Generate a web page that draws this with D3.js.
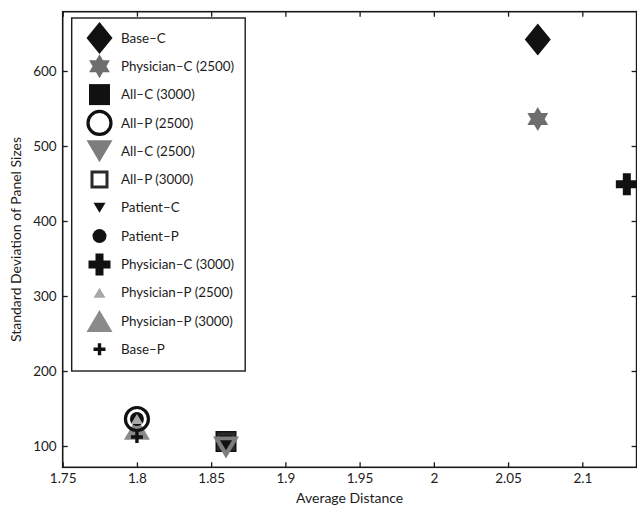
<!DOCTYPE html>
<html>
<head>
<meta charset="utf-8">
<script src="https://cdn.jsdelivr.net/npm/d3@7"></script>
<style>
  html, body { margin: 0; padding: 0; background: #fff; }
  svg { display: block; }
  text { font-family: Lato, "Open Sans", sans-serif; fill: #1c1c1c; }
</style>
</head>
<body>
<svg id="chart" width="637" height="509"></svg>
<script>
// ---------------- data ----------------
const seriesNames = ["Base–C", "Physician–C (2500)", "All–C (3000)", "All–P (2500)", "All–C (2500)",
  "All–P (3000)", "Patient–C", "Patient–P", "Physician–C (3000)", "Physician–P (2500)",
  "Physician–P (3000)", "Base–P"];
const avgDistance = [2.07, 2.07, 1.86, 1.80, 1.86, 1.86, 1.86, 1.80, 2.13, 1.80, 1.80, 1.80];
const stdPanelSize = [642, 536, 106, 136, 98, 106, 101, 136, 449, 136, 123, 112];
const xTicks = [1.75, 1.8, 1.85, 1.9, 1.95, 2, 2.05, 2.1];
const yTicks = [100, 200, 300, 400, 500, 600];

// ---------------- styles ----------------
const markerStyle = [
  { shape: "diamond", w: 26, h: 32, fill: "#111", stroke: "none", sw: 0 },
  { shape: "hexagram", r: 12, fill: "#6e6e6e", stroke: "none", sw: 0 },
  { shape: "square", s: 21, fill: "#111", stroke: "none", sw: 0 },
  { shape: "circle", r: 11.5, fill: "none", stroke: "#111", sw: 3.2 },
  { shape: "triDown", w: 26, h: 22, fill: "#7d7d7d", stroke: "none", sw: 0 },
  { shape: "square", s: 15, fill: "none", stroke: "#2a2a2a", sw: 3 },
  { shape: "triDown", w: 12, h: 10, fill: "#111", stroke: "none", sw: 0 },
  { shape: "circle", r: 7, fill: "#111", stroke: "none", sw: 0 },
  { shape: "plus", L: 22, t: 8, fill: "#111", stroke: "none", sw: 0 },
  { shape: "triUp", w: 12, h: 10, fill: "#a8a8a8", stroke: "none", sw: 0 },
  { shape: "triUp", w: 26, h: 22, fill: "#8a8a8a", stroke: "none", sw: 0 },
  { shape: "plus", L: 12, t: 3.4, fill: "#111", stroke: "none", sw: 0 }
];
const drawOrder = [0, 1, 2, 5, 4, 6, 10, 3, 7, 9, 11, 8];

function markerPath(m) {
  const p = d3.path();
  if (m.shape === "diamond") {
    p.moveTo(0, -m.h / 2); p.lineTo(m.w / 2, 0); p.lineTo(0, m.h / 2); p.lineTo(-m.w / 2, 0); p.closePath();
  } else if (m.shape === "hexagram") {
    const ri = m.r / Math.sqrt(3);
    for (let i = 0; i < 12; i++) {
      const a = -Math.PI / 2 + i * Math.PI / 6;
      const r = i % 2 === 0 ? m.r : ri;
      if (i === 0) p.moveTo(r * Math.cos(a), r * Math.sin(a)); else p.lineTo(r * Math.cos(a), r * Math.sin(a));
    }
    p.closePath();
  } else if (m.shape === "square") {
    p.rect(-m.s / 2, -m.s / 2, m.s, m.s);
  } else if (m.shape === "circle") {
    p.arc(0, 0, m.r, 0, 2 * Math.PI);
  } else if (m.shape === "triDown") {
    p.moveTo(-m.w / 2, -m.h / 2); p.lineTo(m.w / 2, -m.h / 2); p.lineTo(0, m.h / 2); p.closePath();
  } else if (m.shape === "triUp") {
    p.moveTo(-m.w / 2, m.h / 2); p.lineTo(m.w / 2, m.h / 2); p.lineTo(0, -m.h / 2); p.closePath();
  } else if (m.shape === "plus") {
    const a = m.L / 2, b = m.t / 2;
    p.moveTo(-b, -a); p.lineTo(b, -a); p.lineTo(b, -b); p.lineTo(a, -b); p.lineTo(a, b); p.lineTo(b, b);
    p.lineTo(b, a); p.lineTo(-b, a); p.lineTo(-b, b); p.lineTo(-a, b); p.lineTo(-a, -b); p.lineTo(-b, -b); p.closePath();
  }
  return p.toString();
}

// ---------------- layout ----------------
const svg = d3.select("#chart");
const pLeft = 62.7, pRight = 636.6, pTop = 11.7, pBottom = 467.3;
const x = d3.scaleLinear().domain([1.75, 2.1]).range([pLeft, 582.3]);
const y = d3.scaleLinear().domain([100, 600]).range([446, 71]);
const fontTick = 13.5, fontTitle = 14, fontLegend = 13.4;

// axes
const axisColor = "#1a1a1a";
const gx = svg.append("g").attr("transform", `translate(0,${pBottom})`)
  .call(d3.axisBottom(x).tickValues(xTicks).tickSizeInner(-5).tickSizeOuter(0).tickPadding(6)
    .tickFormat(d => String(+d.toFixed(2))));
const gxt = svg.append("g").attr("transform", `translate(0,${pTop})`)
  .call(d3.axisTop(x).tickValues(xTicks).tickSizeInner(-5).tickSizeOuter(0).tickFormat(""));
const gy = svg.append("g").attr("transform", `translate(${pLeft},0)`)
  .call(d3.axisLeft(y).tickValues(yTicks).tickSizeInner(-5).tickSizeOuter(0).tickPadding(6));
const gyr = svg.append("g").attr("transform", `translate(${pRight},0)`)
  .call(d3.axisRight(y).tickValues(yTicks).tickSizeInner(-5).tickSizeOuter(0).tickFormat(""));
[gx, gxt, gy, gyr].forEach(g => {
  g.select(".domain").remove();
  g.selectAll(".tick line").attr("stroke", axisColor).attr("stroke-width", 1.3);
  g.selectAll(".tick text").attr("font-size", fontTick).attr("fill", "#1c1c1c")
    .style("font-family", "Lato, 'Open Sans', sans-serif");
});
svg.append("rect").attr("x", pLeft).attr("y", pTop).attr("width", pRight - pLeft).attr("height", pBottom - pTop)
  .attr("fill", "none").attr("stroke", axisColor).attr("stroke-width", 1.6);

// axis titles
svg.append("text").attr("x", (pLeft + pRight) / 2).attr("y", 503).attr("text-anchor", "middle")
  .attr("font-size", fontTitle).text("Average Distance");
svg.append("text").attr("transform", `translate(21,${(pTop + pBottom) / 2}) rotate(-90)`)
  .attr("text-anchor", "middle").attr("font-size", fontTitle).text("Standard Deviation of Panel Sizes");

// points
const plotG = svg.append("g");
drawOrder.forEach(i => {
  const m = markerStyle[i];
  plotG.append("path").attr("d", markerPath(m))
    .attr("transform", `translate(${x(avgDistance[i])},${y(stdPanelSize[i])})`)
    .attr("fill", m.fill).attr("stroke", m.stroke).attr("stroke-width", m.sw);
});

// legend
const lg = svg.append("g");
lg.append("rect").attr("x", 71.7).attr("y", 18).attr("width", 173.5).attr("height", 353)
  .attr("fill", "#fff").attr("stroke", axisColor).attr("stroke-width", 1.4);
seriesNames.forEach((name, i) => {
  const cy = 38 + i * 28.3;
  const m = markerStyle[i];
  lg.append("path").attr("d", markerPath(m)).attr("transform", `translate(99.5,${cy})`)
    .attr("fill", m.fill).attr("stroke", m.stroke).attr("stroke-width", m.sw);
  lg.append("text").attr("x", 121).attr("y", cy).attr("dy", "0.35em")
    .attr("font-size", fontLegend).text(name);
});
</script>
</body>
</html>
